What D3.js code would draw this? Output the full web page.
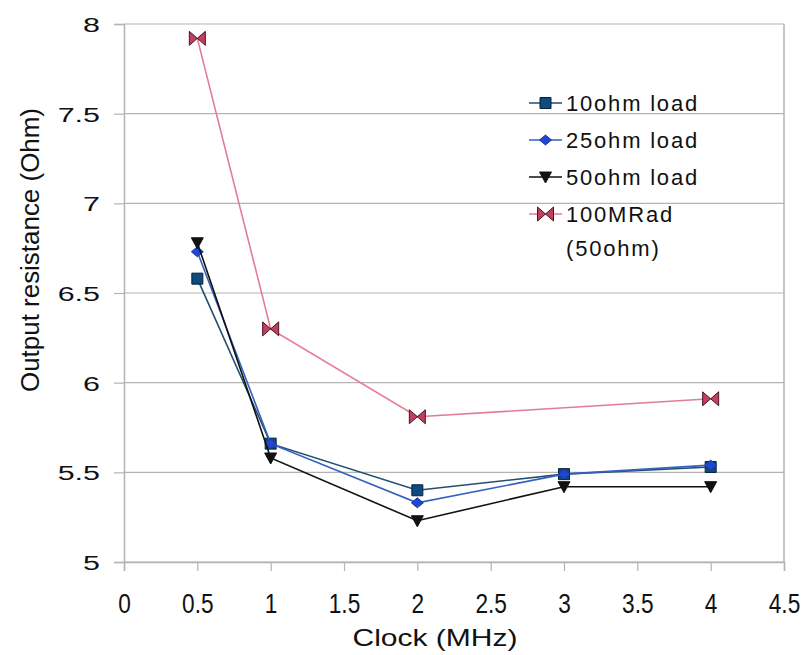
<!DOCTYPE html>
<html>
<head>
<meta charset="utf-8">
<script src="https://cdn.jsdelivr.net/npm/d3@7"></script>
<style>
  body { margin: 0; background: #fff; }
  text { font-family: "Liberation Sans", Arial, sans-serif; fill: #111; }
</style>
</head>
<body>
<svg id="chart" width="812" height="655"></svg>
<script>
// values
const clockMHz = [0.5, 1, 2, 3, 4];
const load10 = [6.58, 5.66, 5.40, 5.49, 5.53];
const load25 = [6.73, 5.66, 5.33, 5.49, 5.54];
const load50 = [6.78, 5.58, 5.23, 5.42, 5.42];
const mradClock = [0.5, 1, 2, 4];
const mrad100 = [7.92, 6.30, 5.81, 5.91];

const xTicks = [0, 0.5, 1, 1.5, 2, 2.5, 3, 3.5, 4, 4.5];
const yTicks = [5, 5.5, 6, 6.5, 7, 7.5, 8];

const seriesNames = ["10ohm load", "25ohm load", "50ohm load", "100MRad\n(50ohm)"];

const svg = d3.select("#chart");
const margin = {top: 24, right: 28, bottom: 93, left: 124};
const width = 812, height = 655;

const x = d3.scaleLinear().domain([0, 4.5]).range([margin.left, width - margin.right]);
const y = d3.scaleLinear().domain([5, 8]).range([height - margin.bottom, margin.top]);

const grey = "#b3b3b3";

// grid
svg.append("g").selectAll("line").data(yTicks).enter().append("line")
    .attr("x1", margin.left).attr("x2", width - margin.right)
    .attr("y1", d => y(d)).attr("y2", d => y(d))
    .attr("stroke", grey).attr("stroke-width", 1.2);
svg.append("line").attr("x1", x(4.5)).attr("x2", x(4.5)).attr("y1", y(8)).attr("y2", y(5))
    .attr("stroke", grey).attr("stroke-width", 1.5);

// axes
const xAxis = svg.append("g").attr("transform", `translate(0, ${y(5)})`)
    .call(d3.axisBottom(x).tickValues(xTicks).tickSize(9).tickFormat(d3.format("")));
const yAxis = svg.append("g").attr("transform", `translate(${margin.left}, 0)`)
    .call(d3.axisLeft(y).tickValues(yTicks).tickSize(10).tickFormat(d3.format("")));
[xAxis, yAxis].forEach(g => {
    g.select(".domain").attr("stroke", grey).attr("stroke-width", 1.5);
    g.selectAll(".tick line").attr("stroke", grey).attr("stroke-width", 1.2);
    g.selectAll(".tick text").attr("fill", "#111").style("font-family", "'Liberation Sans', Arial, sans-serif");
});
xAxis.selectAll(".tick text").attr("font-size", 27).attr("x", 0).attr("y", 0).attr("dy", 0)
    .attr("text-anchor", "middle")
    .attr("transform", "translate(0,51) scale(0.84,1)");
yAxis.selectAll(".tick text").attr("font-size", 21).attr("x", 0).attr("dy", "0.36em")
    .attr("transform", "translate(-24,0) scale(1.45,1)");

// axis titles
svg.append("text").attr("x", 435).attr("y", 646).attr("text-anchor", "middle")
    .attr("font-size", 24).attr("textLength", 165).attr("lengthAdjust", "spacingAndGlyphs")
    .text("Clock (MHz)");
svg.append("text").attr("transform", "translate(39,250) rotate(-90)").attr("text-anchor", "middle")
    .attr("font-size", 25).attr("textLength", 284).attr("lengthAdjust", "spacingAndGlyphs")
    .text("Output resistance (Ohm)");

// markers
const markers = [
    {line: "#224f70", fill: "#0f4a80", stroke: "#0b2038", shape: "M-5.5,-5.5H5.5V5.5H-5.5Z"},
    {line: "#3461c0", fill: "#1f46d4", stroke: "#1a3a9a", shape: "M0,-5L6,0L0,5L-6,0Z"},
    {line: "#111111", fill: "#111111", stroke: "#111111", shape: "M-6,-5H6L0,6Z"},
    {line: "#e37d93", fill: "#c2405f", stroke: "#4a1424", shape: "M-8,-7L0,0L-8,7Z M8,-7L0,0L8,7Z"}
];

const series = [
    {xs: clockMHz, ys: load10},
    {xs: clockMHz, ys: load25},
    {xs: clockMHz, ys: load50},
    {xs: mradClock, ys: mrad100}
];

const line = d3.line().x(d => x(d[0])).y(d => y(d[1]));

series.forEach((s, i) => {
    const pts = s.xs.map((v, j) => [v, s.ys[j]]);
    const m = markers[i];
    svg.append("path").datum(pts).attr("fill", "none").attr("stroke", m.line)
        .attr("stroke-width", 1.6).attr("d", line);
    svg.append("g").selectAll("path").data(pts).enter().append("path")
        .attr("transform", d => `translate(${x(d[0])},${y(d[1])})`)
        .attr("d", m.shape).attr("fill", m.fill).attr("stroke", m.stroke).attr("stroke-width", 1);
});

// legend
const legend = svg.append("g");
seriesNames.forEach((name, i) => {
    const ly = 103 + i * 37;
    const m = markers[i];
    legend.append("line").attr("x1", 529).attr("x2", 562).attr("y1", ly).attr("y2", ly)
        .attr("stroke", m.line).attr("stroke-width", 1.6);
    legend.append("path").attr("transform", `translate(545.5,${ly})`).attr("d", m.shape)
        .attr("fill", m.fill).attr("stroke", m.stroke).attr("stroke-width", 1);
    name.split("\n").forEach((part, k) => {
        legend.append("text").attr("x", 566).attr("y", ly + k * 34).attr("dy", "0.36em")
            .attr("font-size", 22).attr("letter-spacing", 1.8).text(part);
    });
});
</script>
</body>
</html>
